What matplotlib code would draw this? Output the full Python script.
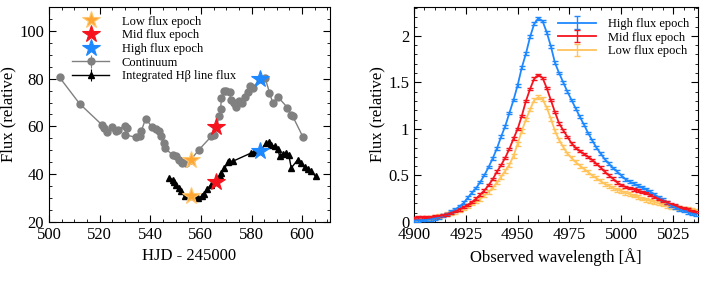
import numpy as np
import matplotlib
matplotlib.use("Agg")
import matplotlib.pyplot as plt
from matplotlib.ticker import MultipleLocator, FuncFormatter

plt.rcParams['font.family'] = ['Liberation Serif', 'DejaVu Serif']
plt.rcParams['mathtext.fontset'] = 'stix'

# ---- light curves (left panel) ----
cont_hjd = [504.2, 512.1, 521.0, 521.6, 523.0, 525.0, 526.3, 527.2, 529.9, 530.8,
            529.9, 534.2, 535.8, 536.4, 538.2, 540.8, 542.1, 543.3, 544.1, 545.3,
            545.9, 548.9, 550.3, 551.3, 552.5, 553.6, 554.3, 556.0, 559.2, 564.1,
            565.1, 566.1, 567.2, 567.8, 568.1, 569.2, 570.1, 571.4, 571.8, 573.0,
            574.0, 575.0, 576.3, 577.4, 578.6, 579.6, 580.5, 583.2, 585.4, 587.1,
            588.4, 590.3, 594.2, 595.5, 596.3, 600.4]
cont_flux = [80.5, 69.5, 60.6, 59.5, 57.5, 59.7, 57.9, 58.6, 60.3, 59.3,
             56.5, 55.5, 55.8, 57.9, 63.3, 59.6, 59.0, 57.9, 55.8, 53.0,
             50.9, 47.9, 47.5, 46.1, 44.7, 45.1, 44.7, 46.0, 50.2, 55.8,
             56.5, 59.7, 64.2, 67.5, 71.7, 74.9, 75.0, 74.6, 71.1, 69.8,
             68.1, 70.5, 69.9, 72.5, 74.6, 77.0, 76.0, 79.9, 80.2, 74.2,
             69.8, 72.5, 67.9, 64.9, 64.2, 55.4]

hb_hjd = [547.6, 548.9, 549.5, 550.3, 551.3, 552.2, 553.6, 556.0, 557.6, 559.0,
          560.3, 561.2, 562.5, 563.8, 566.1, 567.4, 568.0, 569.3, 570.9, 571.3,
          572.6, 579.9, 580.8, 583.2, 585.8, 586.9, 587.8, 589.1, 590.4, 591.1,
          592.4, 593.5, 594.7, 595.7, 598.3, 599.6, 601.0, 602.2, 603.6, 605.3]
hb_flux = [38.4, 37.7, 36.6, 35.5, 34.2, 32.8, 30.7, 30.7, 30.7, 30.0,
           30.7, 31.8, 33.8, 35.3, 36.6, 39.1, 40.5, 42.6, 44.9, 45.4,
           45.4, 48.9, 49.3, 49.6, 53.0, 53.4, 52.3, 51.6, 50.5, 47.5,
           48.6, 48.8, 48.2, 42.6, 46.1, 44.7, 43.0, 42.2, 41.2, 39.1]

epoch_names = ['Low flux epoch', 'Mid flux epoch', 'High flux epoch']
epoch_hjd = [556.0, 566.1, 583.2]
epoch_cont = [46.0, 59.7, 79.9]
epoch_hb = [30.7, 36.6, 49.6]

# ---- spectra (right panel) ----
wave = np.arange(4900, 5037, 2)
flux_high = [0.015, 0.018, 0.020, 0.022, 0.027, 0.036, 0.050, 0.068, 0.086, 0.110,
             0.135, 0.168, 0.205, 0.262, 0.315, 0.365, 0.430, 0.505, 0.590, 0.685,
             0.790, 0.915, 1.030, 1.170, 1.310, 1.470, 1.660, 1.810, 1.990, 2.130,
             2.190, 2.160, 2.040, 1.890, 1.710, 1.600, 1.500, 1.400, 1.310, 1.220,
             1.130, 1.045, 0.955, 0.875, 0.800, 0.735, 0.675, 0.625, 0.580, 0.540,
             0.500, 0.460, 0.432, 0.412, 0.390, 0.372, 0.352, 0.325, 0.296, 0.266,
             0.238, 0.207, 0.176, 0.155, 0.135, 0.118, 0.103, 0.090, 0.082]
flux_mid = [0.045, 0.047, 0.049, 0.051, 0.054, 0.058, 0.062, 0.072, 0.082, 0.098,
            0.115, 0.135, 0.160, 0.185, 0.215, 0.250, 0.295, 0.340, 0.395, 0.460,
            0.540, 0.610, 0.690, 0.785, 0.895, 1.000, 1.140, 1.300, 1.430, 1.540,
            1.580, 1.550, 1.440, 1.310, 1.180, 1.060, 0.985, 0.915, 0.845, 0.795,
            0.760, 0.730, 0.700, 0.665, 0.625, 0.585, 0.540, 0.500, 0.465, 0.425,
            0.395, 0.378, 0.362, 0.350, 0.337, 0.324, 0.308, 0.288, 0.268, 0.248,
            0.228, 0.210, 0.193, 0.178, 0.163, 0.148, 0.134, 0.120, 0.108]
flux_low = [0.030, 0.034, 0.038, 0.042, 0.046, 0.052, 0.060, 0.070, 0.082, 0.094,
            0.108, 0.126, 0.148, 0.172, 0.198, 0.222, 0.250, 0.285, 0.325, 0.370,
            0.425, 0.485, 0.550, 0.615, 0.710, 0.840, 0.980, 1.100, 1.210, 1.310,
            1.340, 1.320, 1.230, 1.110, 0.980, 0.880, 0.805, 0.735, 0.685, 0.642,
            0.605, 0.570, 0.535, 0.500, 0.470, 0.438, 0.408, 0.390, 0.365, 0.345,
            0.330, 0.313, 0.298, 0.283, 0.268, 0.252, 0.238, 0.226, 0.213, 0.200,
            0.186, 0.174, 0.164, 0.155, 0.150, 0.144, 0.136, 0.126, 0.116]

c_low = '#FFA533'
c_low_spec = '#FFC45C'
c_mid = '#F5141E'
c_high = '#1E88FF'
star_cols = [c_low, c_mid, c_high]
star_edges = ['#FFC870', c_mid, c_high]

fig = plt.figure(figsize=(7.06, 2.82), dpi=100)
ax1 = fig.add_axes([0.0694, 0.213, 0.398, 0.762])
ax2 = fig.add_axes([0.5864, 0.213, 0.4023, 0.762])

# left panel
h_cont = ax1.errorbar(cont_hjd, cont_flux, yerr=0.8, color='#808080', marker='o',
                      ms=5, lw=1, elinewidth=0.8, capsize=0, label='Continuum', zorder=2)
h_hb = ax1.errorbar(hb_hjd, hb_flux, yerr=0.4, color='black', marker='^',
                    ms=5, lw=1, elinewidth=0.8, capsize=0,
                    label='Integrated H\u03b2 line flux', zorder=2)
h_stars = []
for name, x, yc, yh, fc, ec in zip(epoch_names, epoch_hjd, epoch_cont, epoch_hb,
                                   star_cols, star_edges):
    h = ax1.plot([x, x], [yc, yh], ls='none', marker='*', ms=13, mfc=fc, mec=ec,
                 mew=0.8, label=name, zorder=4)[0]
    h_stars.append(h)

ax1.set_xlim(500, 611)
ax1.set_ylim(20, 110)
ax1.xaxis.set_major_locator(MultipleLocator(20))
ax1.xaxis.set_minor_locator(MultipleLocator(5))
ax1.yaxis.set_major_locator(MultipleLocator(20))
ax1.yaxis.set_minor_locator(MultipleLocator(5))
ax1.set_xlabel('HJD - 245000', fontsize=12, labelpad=3)
ax1.set_ylabel('Flux (relative)', fontsize=12, labelpad=2)
ax1.legend(h_stars + [h_cont, h_hb], epoch_names + ['Continuum', 'Integrated H\u03b2 line flux'],
           loc='upper left', bbox_to_anchor=(0.05, 1.0), frameon=False, fontsize=9,
           handlelength=3.0, handletextpad=1.0, labelspacing=0.13, borderaxespad=0.3)

# right panel
err_high = 0.015
err_mid = 0.013
err_low = 0.02
ax2.errorbar(wave, flux_high, yerr=err_high, color=c_high, lw=1.3, capsize=2,
             elinewidth=1, label='High flux epoch', zorder=3)
ax2.errorbar(wave, flux_mid, yerr=err_mid, color=c_mid, lw=1.3, capsize=2,
             elinewidth=1, label='Mid flux epoch', zorder=3)
ax2.errorbar(wave, flux_low, yerr=err_low, color=c_low_spec, lw=1.3, capsize=2,
             elinewidth=1, label='Low flux epoch', zorder=2)
ax2.set_xlim(4900, 5037)
ax2.set_ylim(0, 2.31)
ax2.xaxis.set_major_locator(MultipleLocator(25))
ax2.xaxis.set_minor_locator(MultipleLocator(5))
ax2.yaxis.set_major_locator(MultipleLocator(0.5))
ax2.yaxis.set_minor_locator(MultipleLocator(0.1))
ax2.yaxis.set_major_formatter(FuncFormatter(lambda v, p: '%g' % v))
ax2.set_xlabel('Observed wavelength [\u00c5]', fontsize=12, labelpad=3)
ax2.set_ylabel('Flux (relative)', fontsize=12, labelpad=2)
ax2.legend(loc='upper right', bbox_to_anchor=(1.0, 0.99), frameon=False, fontsize=9,
           handlelength=3.0, handletextpad=1.0, labelspacing=0.13, borderaxespad=0.3)

for ax in (ax1, ax2):
    ax.tick_params(which='both', direction='in', top=True, right=True, labelsize=12)
    ax.tick_params(which='major', length=5, width=0.8)
    ax.tick_params(which='minor', length=2.5, width=0.6)
    ax.tick_params(axis='x', pad=4)
    for s in ax.spines.values():
        s.set_linewidth(0.8)

fig.savefig('out.png', dpi=100)
